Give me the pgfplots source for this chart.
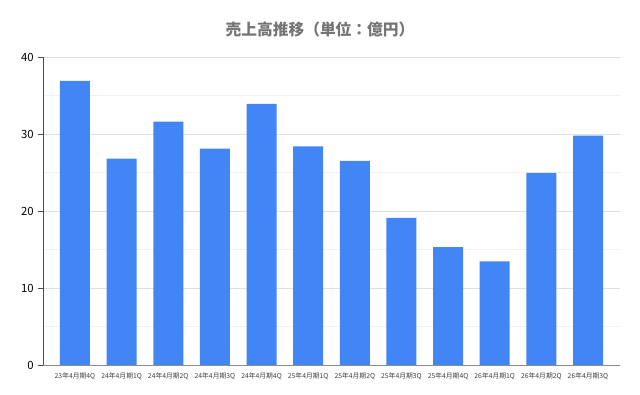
\documentclass[border=0pt]{standalone}
\usepackage{fontspec}
\setmainfont{Noto Sans CJK JP}
\usepackage{pgfplots}
\pgfplotsset{compat=1.18}
\definecolor{barblue}{HTML}{4285F4}
\definecolor{titlegray}{HTML}{757575}
\definecolor{gridmaj}{HTML}{E0E0E0}
\definecolor{gridmin}{HTML}{F1F1F1}
\begin{document}
\begin{tikzpicture}[x=1pt,y=1pt]
\useasboundingbox (-32.25,-22.5) rectangle (447.75,273.75);
\begin{axis}[
  at={(0,0)}, anchor=south west,
  scale only axis, width=432.75pt, height=231pt,
  xmin=-0.686, xmax=11.686, ymin=0, ymax=40,
  ybar, bar width=0.643,
  axis x line=bottom, axis y line=left,
  axis line style={-},
  x axis line style={draw=black!45},
  y axis line style={draw=black!70},
  xtick=data,
  xticklabels={23年4月期4Q,24年4月期1Q,24年4月期2Q,24年4月期3Q,24年4月期4Q,25年4月期1Q,25年4月期2Q,25年4月期3Q,25年4月期4Q,26年4月期1Q,26年4月期2Q,26年4月期3Q},
  x tick label style={font=\fontsize{5.1}{6}\selectfont, text=black!75, yshift=1pt},
  xtick style={draw=none},
  ytick={0,10,20,30,40},
  minor ytick={5,15,25,35},
  ytick style={draw=black!70},
  minor tick length=0pt,
  tick align=outside, major tick length=3.5pt,
  y tick label style={font=\fontsize{8.5}{10}\selectfont, text=black},
  /pgf/number format/assume math mode=true,
  ymajorgrids, yminorgrids,
  major grid style={draw=gridmaj, line width=0.6pt},
  minor grid style={draw=gridmin, line width=0.6pt},
  clip=false,
]
\addplot[draw=none, fill=barblue] coordinates {
  (0,36.9) (1,26.8) (2,31.6) (3,28.1) (4,33.9) (5,28.4)
  (6,26.5) (7,19.1) (8,15.3) (9,13.45) (10,24.95) (11,29.8)
};
\end{axis}
\node[font=\bfseries\fontsize{11.8}{14}\selectfont, text=titlegray] at (207.75,251.25) {売上高推移（単位：億円）};
\end{tikzpicture}
\end{document}
